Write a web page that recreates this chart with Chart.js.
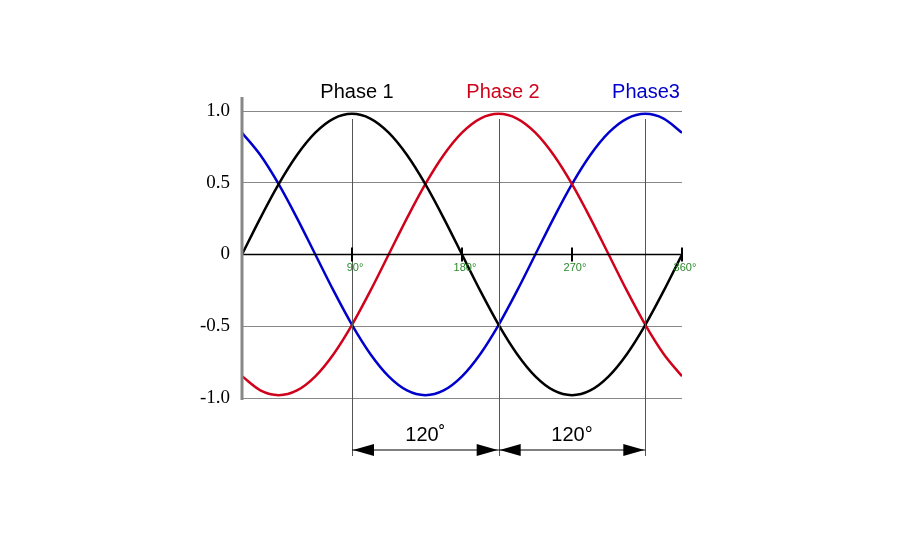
<!DOCTYPE html>
<html><head><meta charset="utf-8">
<script src="https://cdn.jsdelivr.net/npm/chart.js@4"></script>
<style>html,body{margin:0;background:#fff}#w{width:900px;height:550px}</style>
</head><body><div id="w"><canvas id="c"></canvas></div>
<script>
const angles=[0,15,30,45,60,75,90,105,120,135,150,165,180,195,210,225,240,255,270,285,300,315,330,345,360];
const phase1=[0,.259,.5,.707,.866,.966,1,.966,.866,.707,.5,.259,0,-.259,-.5,-.707,-.866,-.966,-1,-.966,-.866,-.707,-.5,-.259,0];
const phase2=[-.866,-.966,-1,-.966,-.866,-.707,-.5,-.259,0,.259,.5,.707,.866,.966,1,.966,.866,.707,.5,.259,0,-.259,-.5,-.707,-.866];
const phase3=[.866,.707,.5,.259,0,-.259,-.5,-.707,-.866,-.966,-1,-.966,-.866,-.707,-.5,-.259,0,.259,.5,.707,.866,.966,1,.966,.866];
const yTicks=[1,0.5,0,-0.5,-1];
const yTickLabels=['1.0','0.5','0','-0.5','-1.0'];
const degTicks=[90,180,270,360];
const degLabels=['90°','180°','270°','360°'];
const peakLines=[90,210,330];
const names=['Phase 1','Phase 2','Phase3'];
const colors=['#000000','#d0021b','#0000cc'];
const amp=0.98;
const mk=(v)=>angles.map((a,i)=>({x:a,y:v[i]*amp}));
const deco={id:'deco',afterDraw(ch){
 const c=ch.ctx,x=ch.scales.x,y=ch.scales.y;
 c.save();
 // vertical lines
 c.strokeStyle='#555';c.lineWidth=1;
 peakLines.forEach(a=>{const px=Math.round(x.getPixelForValue(a))+.5;c.beginPath();c.moveTo(px,y.getPixelForValue(1)+8);c.lineTo(px,456);c.stroke();});
 // zero axis
 const y0=y.getPixelForValue(0);
 c.strokeStyle='#000';c.lineWidth=1.5;
 c.beginPath();c.moveTo(x.left,y0);c.lineTo(x.getPixelForValue(360),y0);c.stroke();
 c.lineWidth=2;
 degTicks.forEach(a=>{const px=x.getPixelForValue(a);c.beginPath();c.moveTo(px,y0-7);c.lineTo(px,y0+7);c.stroke();});
 c.fillStyle='#2a8a2a';c.font='11px "Liberation Sans"';c.textAlign='center';c.textBaseline='middle';
 degTicks.forEach((a,i)=>c.fillText(degLabels[i],x.getPixelForValue(a)+3,y0+13));
 // left thick axis
 c.strokeStyle='#888';c.lineWidth=3;c.beginPath();c.moveTo(x.left,97);c.lineTo(x.left,400);c.stroke();
 // titles
 c.font='20px "Liberation Sans"';c.textBaseline='middle';
 const tx=[357,503,646];
 names.forEach((n,i)=>{c.fillStyle=colors[i];c.fillText(n,tx[i],92);});
 // arrows
 c.fillStyle='#000';c.strokeStyle='#000';c.lineWidth=1;
 const ay=450;
 for(let k=0;k<2;k++){
  const a=x.getPixelForValue(peakLines[k]),b=x.getPixelForValue(peakLines[k+1]);
  c.beginPath();c.moveTo(a,ay);c.lineTo(b,ay);c.stroke();
  c.beginPath();c.moveTo(a+1,ay);c.lineTo(a+22,ay-6);c.lineTo(a+22,ay+6);c.closePath();c.fill();
  c.beginPath();c.moveTo(b-1,ay);c.lineTo(b-22,ay-6);c.lineTo(b-22,ay+6);c.closePath();c.fill();
  c.font='20px "Liberation Sans"';c.fillText(k==0?'120˚':'120°',(a+b)/2,435);
 }
 c.restore();
}};
new Chart(document.getElementById('c'),{type:'line',
 data:{datasets:[phase1,phase2,phase3].map((v,i)=>({label:names[i],data:mk(v),borderColor:colors[i],borderWidth:2.5,pointRadius:0,cubicInterpolationMode:'monotone',fill:false}))},
 options:{responsive:true,maintainAspectRatio:false,animation:false,
  layout:{padding:{left:0,right:218,top:111,bottom:152}},
  plugins:{legend:{display:false},tooltip:{enabled:false}},
  scales:{
   x:{type:'linear',min:0,max:360,display:false},
   y:{min:-1,max:1,afterFit(s){s.width=242;},
    afterBuildTicks(s){s.ticks=yTicks.map(v=>({value:v}));},
    border:{display:false},
    grid:{drawTicks:false,color:(ctx)=>ctx.tick&&ctx.tick.value===0?'rgba(0,0,0,0)':'#888',lineWidth:1},
    ticks:{padding:12,color:'#000',font:{family:'"Liberation Serif"',size:19},callback:(v)=>yTickLabels[yTicks.indexOf(v)]}}
  }},
 plugins:[deco]});
</script></body></html>
